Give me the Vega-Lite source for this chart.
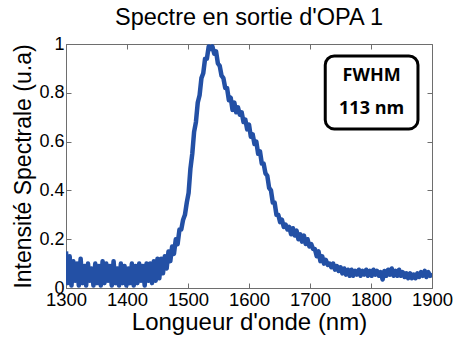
{
  "$schema": "https://vega.github.io/schema/vega-lite/v6.json",
  "width": 366,
  "height": 244,
  "autosize": {"type": "none"},
  "padding": {"left": 66, "top": 44, "right": 24, "bottom": 49},
  "background": "white",
  "config": {
    "view": {"stroke": "#6e6e6e", "strokeWidth": 1},
    "font": "Liberation Sans",
    "axis": {
      "grid": false,
      "domainColor": "#6e6e6e",
      "tickColor": "#6e6e6e",
      "tickSize": -5,
      "labelFont": "Liberation Sans",
      "labelFontSize": 18,
      "labelColor": "#000000",
      "labelOverlap": false,
      "labelFlush": false,
      "titleFont": "Liberation Sans",
      "titleFontSize": 23,
      "titleFontWeight": "normal",
      "titleColor": "#000000"
    }
  },
  "title": {
    "text": "Spectre en sortie d'OPA 1",
    "font": "Liberation Sans",
    "fontSize": 23.5,
    "fontWeight": "normal",
    "color": "#000000",
    "anchor": "middle",
    "baseline": "alphabetic",
    "offset": -13
  },
  "datasets": {
    "spectrum": [
      {"wl":1300,"I":0.15},{"wl":1303,"I":0.02},{"wl":1306,"I":0.13},{"wl":1309,"I":0.01},{"wl":1312,"I":0.11},{"wl":1315,"I":0.03},{"wl":1318,"I":0.10},{"wl":1321,"I":0.01},{"wl":1324,"I":0.12},{"wl":1327,"I":0.02},
      {"wl":1330,"I":0.09},{"wl":1333,"I":0.01},{"wl":1336,"I":0.10},{"wl":1339,"I":0.03},{"wl":1342,"I":0.08},{"wl":1345,"I":0.01},{"wl":1348,"I":0.10},{"wl":1351,"I":0.02},{"wl":1354,"I":0.09},{"wl":1357,"I":0.01},
      {"wl":1360,"I":0.11},{"wl":1363,"I":0.02},{"wl":1366,"I":0.10},{"wl":1369,"I":0.03},{"wl":1372,"I":0.09},{"wl":1375,"I":0.01},{"wl":1378,"I":0.11},{"wl":1381,"I":0.02},{"wl":1384,"I":0.08},{"wl":1387,"I":0.01},
      {"wl":1390,"I":0.10},{"wl":1393,"I":0.02},{"wl":1396,"I":0.09},{"wl":1399,"I":0.01},{"wl":1402,"I":0.08},{"wl":1405,"I":0.02},{"wl":1408,"I":0.10},{"wl":1411,"I":0.01},{"wl":1414,"I":0.09},{"wl":1417,"I":0.02},
      {"wl":1420,"I":0.10},{"wl":1423,"I":0.03},{"wl":1426,"I":0.09},{"wl":1429,"I":0.01},{"wl":1432,"I":0.10},{"wl":1435,"I":0.03},{"wl":1438,"I":0.10},{"wl":1441,"I":0.02},{"wl":1444,"I":0.11},{"wl":1447,"I":0.03},
      {"wl":1450,"I":0.12},{"wl":1453,"I":0.04},{"wl":1456,"I":0.12},{"wl":1459,"I":0.06},{"wl":1462,"I":0.13},{"wl":1465,"I":0.08},{"wl":1468,"I":0.15},{"wl":1471,"I":0.11},{"wl":1474,"I":0.17},{"wl":1477,"I":0.14},
      {"wl":1480,"I":0.20},{"wl":1483,"I":0.18},{"wl":1486,"I":0.24},{"wl":1489,"I":0.24},{"wl":1492,"I":0.28},{"wl":1495,"I":0.30},{"wl":1498,"I":0.35},{"wl":1501,"I":0.39},{"wl":1504,"I":0.49},{"wl":1507,"I":0.55},
      {"wl":1510,"I":0.64},{"wl":1513,"I":0.68},{"wl":1516,"I":0.76},{"wl":1519,"I":0.79},{"wl":1522,"I":0.86},{"wl":1525,"I":0.88},{"wl":1528,"I":0.94},{"wl":1531,"I":0.94},{"wl":1534,"I":0.99},{"wl":1537,"I":0.98},
      {"wl":1540,"I":0.99},{"wl":1543,"I":0.96},{"wl":1546,"I":0.97},{"wl":1549,"I":0.92},{"wl":1552,"I":0.91},{"wl":1555,"I":0.87},{"wl":1558,"I":0.86},{"wl":1561,"I":0.82},{"wl":1564,"I":0.82},{"wl":1567,"I":0.77},
      {"wl":1570,"I":0.78},{"wl":1573,"I":0.73},{"wl":1576,"I":0.76},{"wl":1579,"I":0.72},{"wl":1582,"I":0.74},{"wl":1585,"I":0.71},{"wl":1588,"I":0.72},{"wl":1591,"I":0.68},{"wl":1594,"I":0.69},{"wl":1597,"I":0.65},
      {"wl":1600,"I":0.67},{"wl":1603,"I":0.62},{"wl":1606,"I":0.63},{"wl":1609,"I":0.59},{"wl":1612,"I":0.60},{"wl":1615,"I":0.55},{"wl":1618,"I":0.56},{"wl":1621,"I":0.51},{"wl":1624,"I":0.51},{"wl":1627,"I":0.47},
      {"wl":1630,"I":0.46},{"wl":1633,"I":0.41},{"wl":1636,"I":0.40},{"wl":1639,"I":0.35},{"wl":1642,"I":0.35},{"wl":1645,"I":0.30},{"wl":1648,"I":0.30},{"wl":1651,"I":0.27},{"wl":1654,"I":0.28},{"wl":1657,"I":0.25},
      {"wl":1660,"I":0.26},{"wl":1663,"I":0.24},{"wl":1666,"I":0.25},{"wl":1669,"I":0.22},{"wl":1672,"I":0.245},{"wl":1675,"I":0.215},{"wl":1678,"I":0.235},{"wl":1681,"I":0.20},{"wl":1684,"I":0.22},{"wl":1687,"I":0.19},
      {"wl":1690,"I":0.215},{"wl":1693,"I":0.18},{"wl":1696,"I":0.20},{"wl":1699,"I":0.17},{"wl":1702,"I":0.18},{"wl":1705,"I":0.16},{"wl":1708,"I":0.16},{"wl":1711,"I":0.13},{"wl":1714,"I":0.15},{"wl":1717,"I":0.11},
      {"wl":1720,"I":0.13},{"wl":1723,"I":0.10},{"wl":1726,"I":0.115},{"wl":1729,"I":0.095},{"wl":1732,"I":0.10},{"wl":1735,"I":0.085},{"wl":1738,"I":0.10},{"wl":1741,"I":0.075},{"wl":1744,"I":0.09},{"wl":1747,"I":0.07},
      {"wl":1750,"I":0.085},{"wl":1753,"I":0.06},{"wl":1756,"I":0.08},{"wl":1759,"I":0.055},{"wl":1762,"I":0.075},{"wl":1765,"I":0.05},{"wl":1768,"I":0.075},{"wl":1771,"I":0.05},{"wl":1774,"I":0.07},{"wl":1777,"I":0.055},
      {"wl":1780,"I":0.075},{"wl":1783,"I":0.05},{"wl":1786,"I":0.07},{"wl":1789,"I":0.055},{"wl":1792,"I":0.075},{"wl":1795,"I":0.05},{"wl":1798,"I":0.07},{"wl":1801,"I":0.05},{"wl":1804,"I":0.075},{"wl":1807,"I":0.055},
      {"wl":1810,"I":0.07},{"wl":1813,"I":0.05},{"wl":1816,"I":0.065},{"wl":1819,"I":0.035},{"wl":1822,"I":0.07},{"wl":1825,"I":0.05},{"wl":1828,"I":0.075},{"wl":1831,"I":0.055},{"wl":1834,"I":0.08},{"wl":1837,"I":0.05},
      {"wl":1840,"I":0.07},{"wl":1843,"I":0.05},{"wl":1846,"I":0.075},{"wl":1849,"I":0.05},{"wl":1852,"I":0.065},{"wl":1855,"I":0.045},{"wl":1858,"I":0.06},{"wl":1861,"I":0.04},{"wl":1864,"I":0.06},{"wl":1867,"I":0.04},
      {"wl":1870,"I":0.055},{"wl":1873,"I":0.04},{"wl":1876,"I":0.06},{"wl":1879,"I":0.045},{"wl":1882,"I":0.065},{"wl":1885,"I":0.05},{"wl":1888,"I":0.07},{"wl":1891,"I":0.045},{"wl":1894,"I":0.065},{"wl":1897,"I":0.05},
      {"wl":1900,"I":0.06}
    ],
    "box": [{"x1": 1725, "x2": 1877, "y1": 0.652, "y2": 0.951}],
    "labels": [{"wl": 1801, "I": 0.87, "txt": "FWHM"}, {"wl": 1801, "I": 0.735, "txt": "113 nm"}]
  },
  "layer": [
    {
      "data": {"name": "spectrum"},
      "mark": {"type": "line", "color": "#2350a5", "strokeWidth": 4.5, "strokeJoin": "round", "clip": true},
      "encoding": {
        "x": {"field": "wl", "type": "quantitative",
              "scale": {"domain": [1300, 1900], "nice": false, "zero": false},
              "axis": {"values": [1300,1400,1500,1600,1700,1800,1900], "format": "d", "title": "Longueur d'onde (nm)", "titleFontSize": 24, "labelFontSize": 18.5, "labelPadding": 7, "titlePadding": 2}},
        "y": {"field": "I", "type": "quantitative",
              "scale": {"domain": [0, 1], "nice": false},
              "axis": {"values": [0,0.2,0.4,0.6,0.8,1], "format": "~g", "title": "Intensité Spectrale (u.a)", "labelPadding": 7, "titlePadding": 3}}
      }
    },
    {
      "data": {"name": "box"},
      "mark": {"type": "rect", "fill": "white", "stroke": "black", "strokeWidth": 3, "cornerRadius": 9},
      "encoding": {
        "x": {"field": "x1", "type": "quantitative", "axis": {"orient": "top", "values": [1300,1400,1500,1600,1700,1800,1900], "labels": false, "title": null, "domain": false}},
        "x2": {"field": "x2"},
        "y": {"field": "y1", "type": "quantitative", "axis": {"orient": "right", "values": [0,0.2,0.4,0.6,0.8,1], "labels": false, "title": null, "domain": false}},
        "y2": {"field": "y2"}
      }
    },
    {
      "data": {"name": "labels"},
      "mark": {"type": "text", "font": "Open Sans", "fontWeight": "bold", "fontSize": 18, "color": "#000000", "align": "center", "baseline": "middle"},
      "encoding": {
        "x": {"field": "wl", "type": "quantitative", "axis": null},
        "y": {"field": "I", "type": "quantitative", "axis": null},
        "text": {"field": "txt"}
      }
    }
  ],
  "resolve": {"axis": {"x": "independent", "y": "independent"}}
}
